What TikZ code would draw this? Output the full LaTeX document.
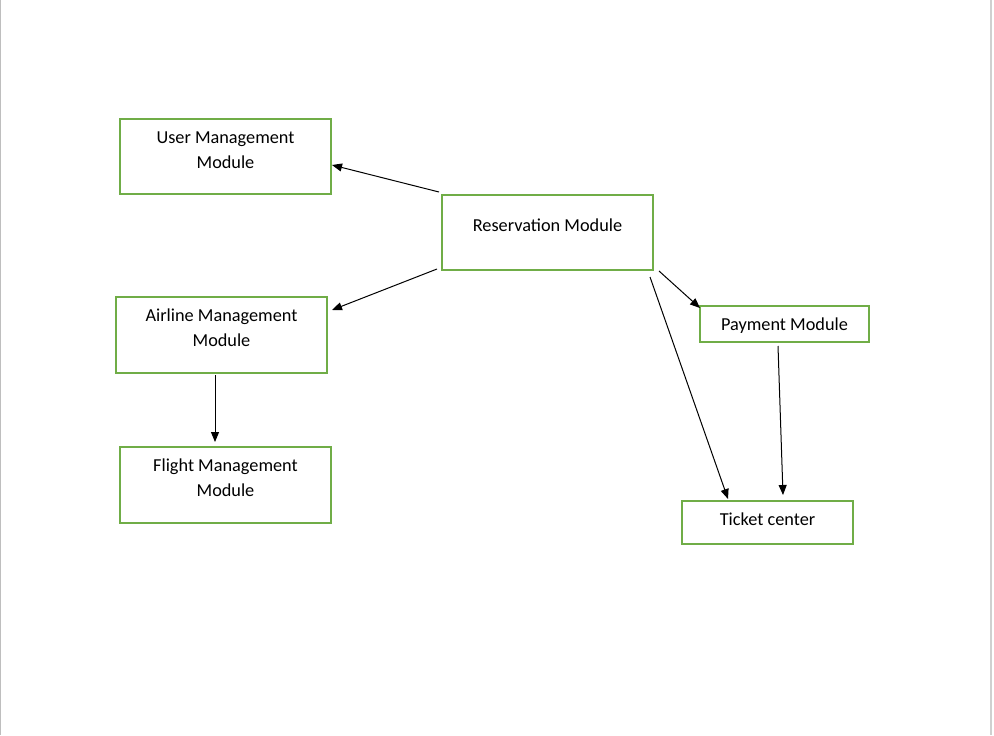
\documentclass[tikz,border=0pt]{standalone}
\usepackage{fontspec}
\setmainfont{Carlito}
\usetikzlibrary{arrows.meta,calc}
\definecolor{boxgreen}{HTML}{70AD47}
\begin{document}
\begin{tikzpicture}[x=0.75pt,y=-0.75pt,
  modbox/.style={draw=boxgreen,line width=1.5pt,rectangle,inner sep=0pt},
  modtext/.style={align=center,inner sep=0pt,font=\fontsize{13.7}{18.75}\selectfont},
  conn/.style={draw=black,line width=0.75pt,-{Triangle[length=7.5pt,width=6pt]}},
  edge/.style={line width=1.5pt}
]
\useasboundingbox (0,0) rectangle (994,735);
\fill[white] (0,0) rectangle (994,735);
\draw[draw={rgb,255:red,190;green,190;blue,190},line width=0.9pt] (0.8,0) coordinate (lt) -- (0.8,735) coordinate (lb);
\draw[draw={rgb,255:red,208;green,208;blue,208},line width=1.5pt] (991,0) coordinate (rt) -- (991,735) coordinate (rb);

\node[modbox,minimum width=211*0.75pt,minimum height=75*0.75pt] (user) at (225.5,156.5) {};
\node[modtext] (usert) at ([yshift=6.5*0.75pt]user.center) {User Management\\Module};

\node[modbox,minimum width=211*0.75pt,minimum height=75*0.75pt] (res) at (547.5,232.5) {};
\node[modtext] (rest) at ([yshift=7*0.75pt]res.center) {Reservation Module};

\node[modbox,minimum width=211*0.75pt,minimum height=76*0.75pt] (air) at (221.5,335) {};
\node[modtext] (airt) at ([yshift=7*0.75pt]air.center) {Airline Management\\Module};

\node[modbox,minimum width=211*0.75pt,minimum height=76*0.75pt] (flight) at (225.5,485) {};
\node[modtext] (flightt) at ([yshift=7*0.75pt]flight.center) {Flight Management\\Module};

\node[modbox,minimum width=169*0.75pt,minimum height=36*0.75pt] (pay) at (784.5,324) {};
\node[modtext] (payt) at ([yshift=-1.5*0.75pt]pay.center) {Payment Module};

\node[modbox,minimum width=171*0.75pt,minimum height=43*0.75pt] (ticket) at (767.5,522.5) {};
\node[modtext] (tickett) at ([yshift=3*0.75pt]ticket.center) {Ticket center};

\draw[conn] ($(res.north west)+(-2,-2)$) -- ($(user.east)+(0,8.5)$);
\draw[conn] ($(res.south west)+(-4,-2)$) -- ($(air.north east)+(4,14)$);
\draw[conn] ($(air.south)+(-6.5,1)$) -- ($(flight.north)+(-10.5,-4)$);
\draw[conn] ($(res.south east)+(5,0)$) -- ($(pay.north west)+(1,3)$);
\draw[conn] ($(res.south east)+(-4,6)$) -- ($(ticket.north west)+(47,-1)$);
\draw[conn] ($(pay.south)+(-6.5,3)$) -- ($(ticket.north)+(15.5,-5)$);
\end{tikzpicture}
\end{document}
